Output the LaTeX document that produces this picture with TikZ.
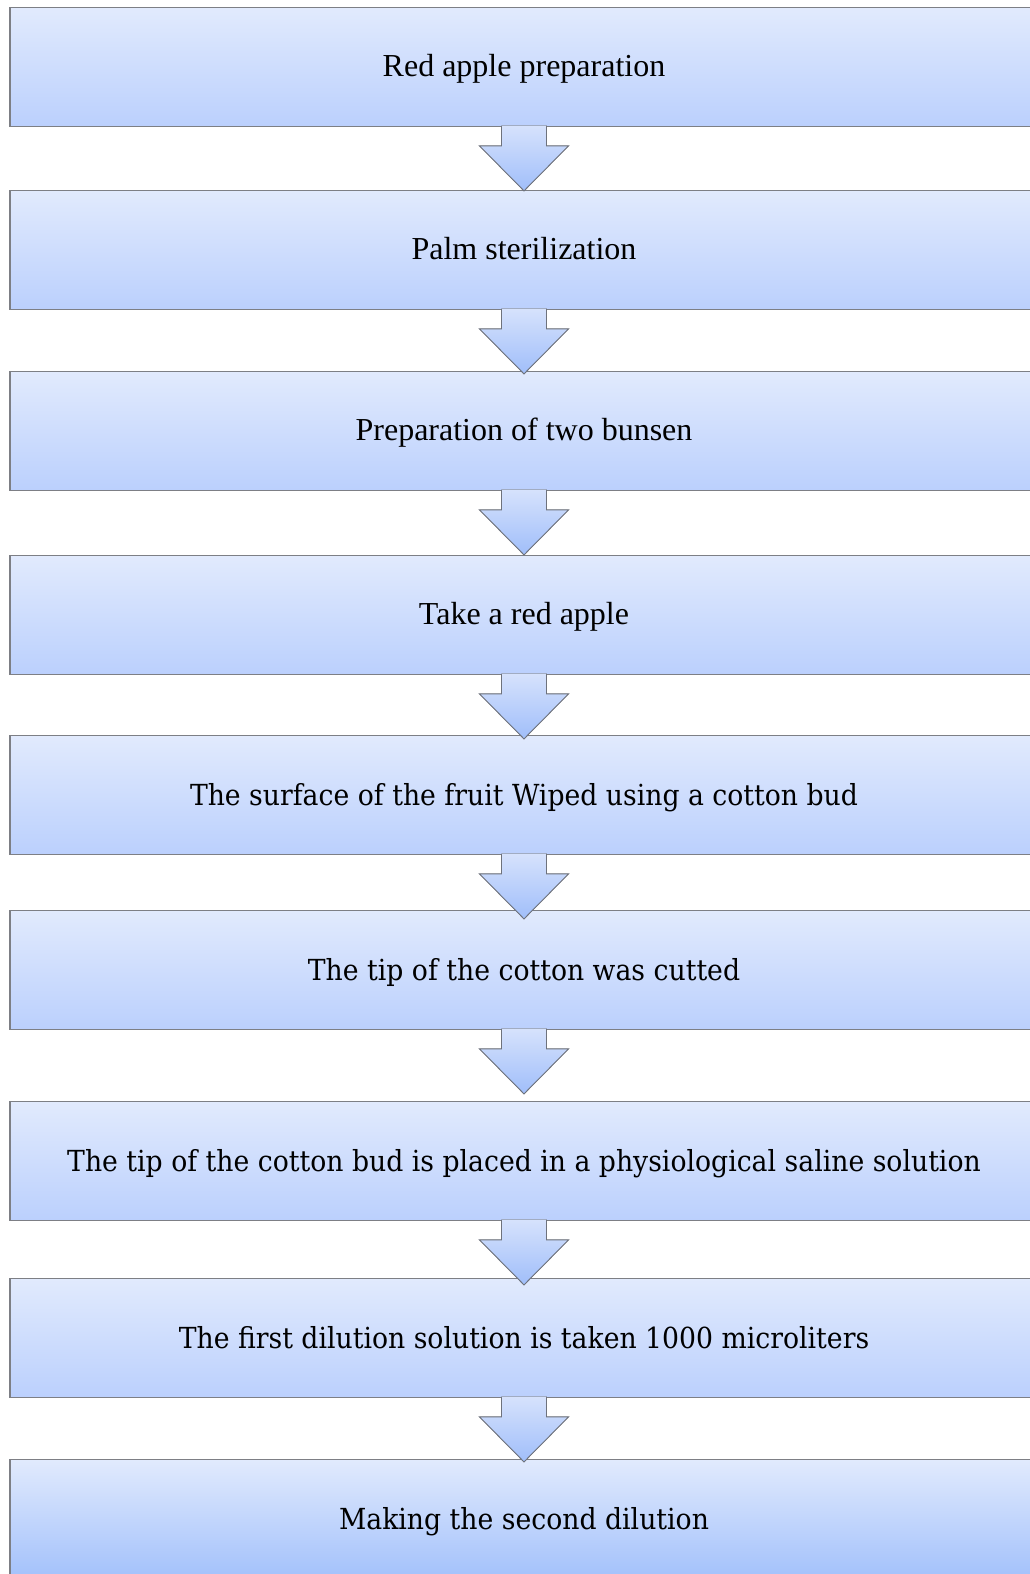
\documentclass[tikz,border=0pt]{standalone}
\usepackage{fontspec}
\setmainfont{Liberation Serif}
\newfontfamily\cambfont[FakeStretch=0.92]{DejaVu Serif}
\definecolor{boxtop}{RGB}{225,234,253}
\definecolor{boxbot}{RGB}{187,208,253}
\definecolor{boxlast}{RGB}{163,193,251}
\definecolor{boxborder}{RGB}{125,127,133}
\definecolor{arrtop}{RGB}{214,226,252}
\definecolor{arrbot}{RGB}{160,190,250}
\definecolor{arrborder}{RGB}{110,114,124}
\begin{document}
\begin{tikzpicture}[x=1pt,y=1pt,
  box/.style={draw=boxborder, line width=1.4pt, top color=boxtop, bottom color=boxbot,
    minimum width=1028pt, minimum height=118.5pt, inner sep=0pt, anchor=north,
    text height=22pt, text depth=2.2pt, font=\fontsize{32}{36}\selectfont},
  cbox/.style={box, text height=22.5pt, font=\fontsize{29}{34}\selectfont\cambfont},
  arrfill/.style={top color=arrtop, bottom color=arrbot},
  arrline/.style={draw=arrborder, line width=0.9pt, line join=miter}]
\useasboundingbox (0,0) rectangle (1030,-1574);
\clip (0,0) rectangle (1030,-1574);
\node[box]  (b1) at (524,-7)    {Red apple preparation};
\node[box]  (b2) at (524,-190)  {Palm sterilization};
\node[box]  (b3) at (524,-371)  {Preparation of two bunsen};
\node[box]  (b4) at (524,-555)  {Take a red apple};
\node[cbox] (b5) at (524,-735)  {The surface of the fruit Wiped using a cotton bud};
\node[cbox] (b6) at (524,-910)  {The tip of the cotton was cutted};
\node[cbox] (b7) at (524,-1101) {The tip of the cotton bud is placed in a physiological saline solution};
\node[cbox] (b8) at (524,-1278) {The first dilution solution is taken 1000 microliters};
\node[cbox, bottom color=boxlast] (b9) at (524,-1459) {Making the second dilution};
\foreach \n in {b1,b2,b3,b4,b5,b6,b7,b8}{
  \fill[arrfill] ([xshift=-22.5pt,yshift=1.5pt]\n.south) -- ([xshift=-22.5pt,yshift=-19pt]\n.south)
    -- ([xshift=-44.5pt,yshift=-19pt]\n.south) -- ([yshift=-64pt]\n.south)
    -- ([xshift=44.5pt,yshift=-19pt]\n.south) -- ([xshift=22.5pt,yshift=-19pt]\n.south)
    -- ([xshift=22.5pt,yshift=1.5pt]\n.south) -- cycle;
  \draw[arrline] ([xshift=-22.5pt,yshift=0.8pt]\n.south) -- ([xshift=-22.5pt,yshift=-19pt]\n.south)
    -- ([xshift=-44.5pt,yshift=-19pt]\n.south) -- ([yshift=-64pt]\n.south)
    -- ([xshift=44.5pt,yshift=-19pt]\n.south) -- ([xshift=22.5pt,yshift=-19pt]\n.south)
    -- ([xshift=22.5pt,yshift=0.8pt]\n.south);
}
\end{tikzpicture}
\end{document}
